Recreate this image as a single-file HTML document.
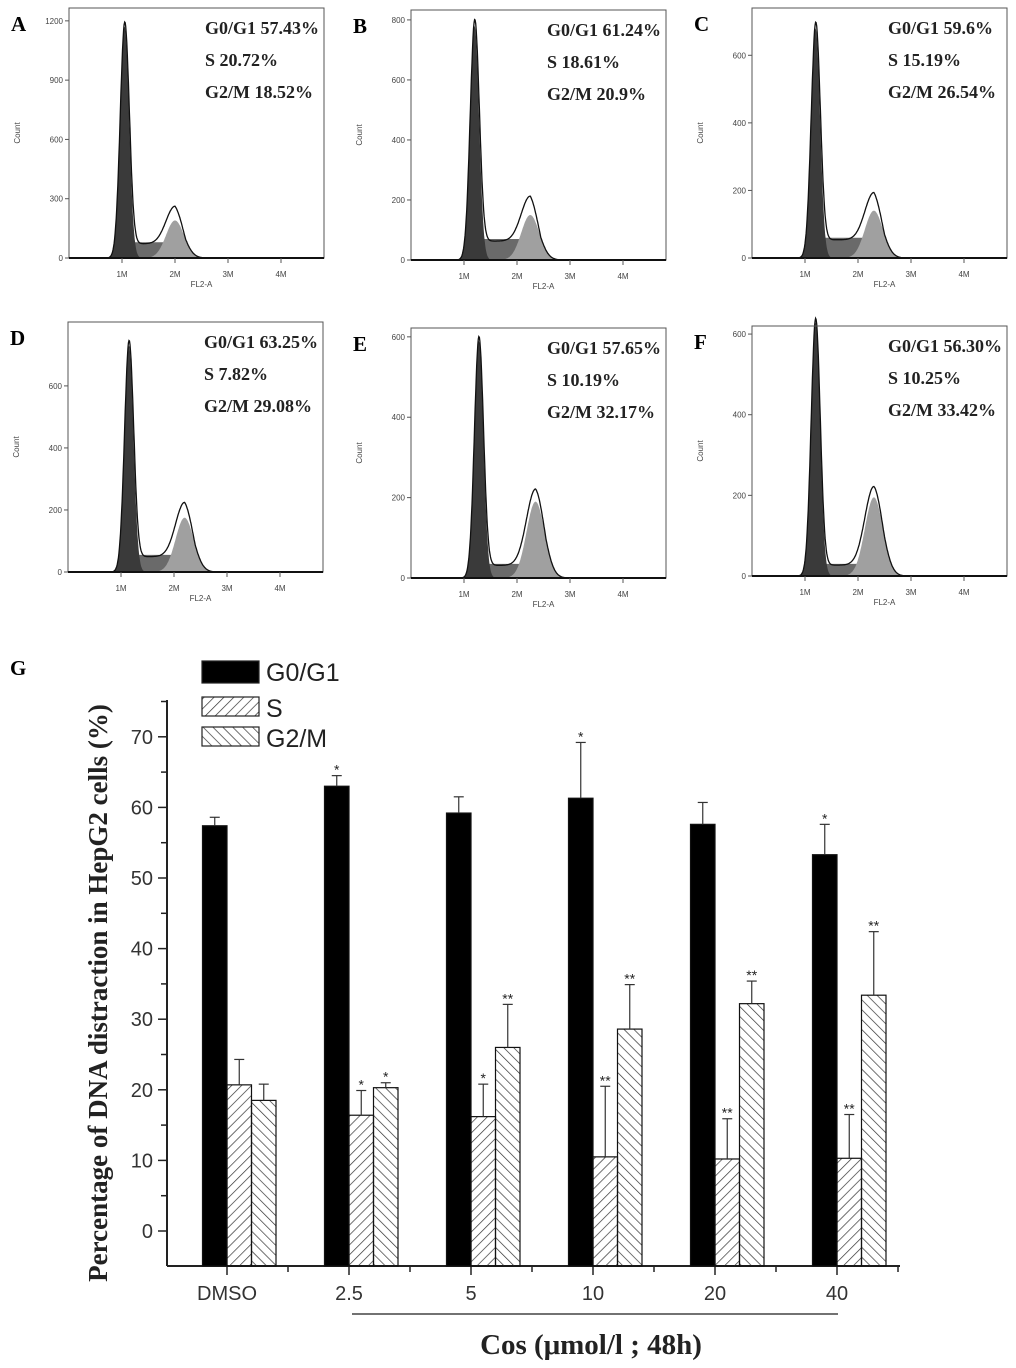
<!DOCTYPE html>
<html><head><meta charset="utf-8"><style>
body{margin:0;background:#fff;}
svg{display:block;}
</style></head><body>
<svg id="fig" width="1016" height="1368" viewBox="0 0 1016 1368" xmlns="http://www.w3.org/2000/svg">
<defs>
<pattern id="hatchS" patternUnits="userSpaceOnUse" width="7" height="7" patternTransform="rotate(45)">
<line x1="0" y1="0" x2="0" y2="7" stroke="#333" stroke-width="1.4"/></pattern>
<pattern id="hatchG2" patternUnits="userSpaceOnUse" width="7" height="7" patternTransform="rotate(-45)">
<line x1="0" y1="0" x2="0" y2="7" stroke="#333" stroke-width="1.4"/></pattern>
</defs>
<g id="hists"></g>
<g id="bars"></g>
</svg>
<script>
const NS='http://www.w3.org/2000/svg';
function mk(parent,tag,attrs,text){const e=document.createElementNS(NS,tag);for(const k in attrs)e.setAttribute(k,attrs[k]);if(text!==undefined)e.textContent=text;parent.appendChild(e);return e;}

// ---------- Histogram panels data ----------
const panelLetters=['A','B','C','D','E','F'];
const g1Pct=['57.43%','61.24%','59.6%','63.25%','57.65%','56.30%'];
const sPct=['20.72%','18.61%','15.19%','7.82%','10.19%','10.25%'];
const g2Pct=['18.52%','20.9%','26.54%','29.08%','32.17%','33.42%'];
const yMaxCounts=[1265,833,740,806,622,620];
const yTickSteps=[300,200,200,200,200,200];
const yTickMax=[1200,800,600,600,600,600];
const g1Peak=[1170,780,680,730,590,630];
const g1Pos=[1.05,1.2,1.2,1.15,1.28,1.2];
const sHeight=[80,70,60,55,35,30];
const g2Peak=[190,150,140,175,190,195];
const g2Pos=[2.0,2.25,2.3,2.2,2.35,2.3];
const frames=[[69,8],[411,10],[752,8],[68,322],[411,328],[752,326]];
const FW=255,FH=250;

const H=document.getElementById('hists');
for(let i=0;i<6;i++){
  const [fx,fy]=frames[i];const base=fy+FH;
  const g=mk(H,'g',{});
  
  
  const xs=v=>fx+v*53;const ys=c=>base-c/yMaxCounts[i]*FH;
  const gauss=(x,m,s)=>Math.exp(-0.5*((x-m)/s)**2);
  const sG1=0.085,sG2=0.17;
  const g1=x=>g1Peak[i]*gauss(x,g1Pos[i],sG1);
  const g2=x=>g2Peak[i]*gauss(x,g2Pos[i],sG2);
  const sC=x=>{const a=g1Pos[i]+0.1,b=g2Pos[i];if(x<a-0.15||x>b+0.2)return 0;let v=sHeight[i];if(x<a)v*=(x-(a-0.15))/0.15;if(x>b)v*=1-(x-b)/0.2;return v;};
  const area=(f,col,nm)=>{let d='M'+xs(0.6)+','+base;for(let x=0.6;x<=3.2;x+=0.01)d+=' L'+xs(x).toFixed(1)+','+ys(f(x)).toFixed(1);d+=' L'+xs(3.2)+','+base+' Z';
    const p=mk(g,'path',{d:d,fill:col});};
  area(sC,'#6a6a6a','s-phase-area');
  area(g2,'#a0a0a0','g2m-peak');
  area(g1,'#3a3a3a','g1-peak');
  let d='';for(let x=0.6;x<=3.2;x+=0.01){const v=g1(x)+g2(x)+sC(x)*0.9;d+=(d?' L':'M')+xs(x).toFixed(1)+','+ys(v).toFixed(1);}
  const ol=mk(g,'path',{d:d,fill:'none',stroke:'#111','stroke-width':1.3});
  
  const fr=mk(g,'rect',{x:fx,y:fy,width:FW,height:FH,fill:'none',stroke:'#555','stroke-width':1});
  
  mk(g,'line',{x1:fx,y1:base,x2:fx+FW,y2:base,stroke:'#111','stroke-width':2});
  for(let t=0;t<=yTickMax[i];t+=yTickSteps[i]){
    mk(g,'line',{x1:fx-4,x2:fx,y1:ys(t),y2:ys(t),stroke:'#555'});
    const tl=mk(g,'text',{x:fx-6,y:ys(t)+3,'font-size':8,'font-family':'Liberation Sans, sans-serif','text-anchor':'end',fill:'#444'},String(t));
    
  }
  for(let m=1;m<=4;m++){
    mk(g,'line',{x1:xs(m),x2:xs(m),y1:base,y2:base+5,stroke:'#555'});
    const tl=mk(g,'text',{x:xs(m),y:base+19,'font-size':8,'font-family':'Liberation Sans, sans-serif','text-anchor':'middle',fill:'#444'},m+'M');
    
  }
  const xt=mk(g,'text',{x:xs(2.5),y:base+29,'font-size':8,'font-family':'Liberation Sans, sans-serif','text-anchor':'middle',fill:'#444'},'FL2-A');
  
  const yt=mk(g,'text',{x:0,y:0,'font-size':8,'font-family':'Liberation Sans, sans-serif','text-anchor':'middle',fill:'#444',transform:`translate(${fx-49},${fy+FH/2}) rotate(-90)`},'Count');
  
  const lt=mk(g,'text',{x:fx-58,y:fy+23,'font-size':21,'font-weight':'bold','font-family':'Liberation Serif, serif'},panelLetters[i]);
  
  const lines=['G0/G1 '+g1Pct[i],'S  '+sPct[i],'G2/M '+g2Pct[i]];
  lines.forEach((s,k)=>{const t=mk(g,'text',{x:fx+136,y:fy+26+k*32,'font-size':18,'font-weight':'bold','font-family':'Liberation Serif, serif',fill:'#222','xml:space':'preserve'},s);
    });
}

// ---------- Bar chart data ----------
const categories=['DMSO','2.5','5','10','20','40'];
const g1Values=[57.4,63.0,59.2,61.3,57.6,53.3];
const g1Err=[1.2,1.5,2.3,7.9,3.1,4.3];
const sValues=[20.7,16.4,16.2,10.5,10.2,10.3];
const sErr=[3.6,3.5,4.6,10.0,5.7,6.2];
const g2Values=[18.5,20.3,26.0,28.6,32.2,33.4];
const g2Err=[2.3,0.7,6.1,6.3,3.2,9.0];
const g1Sig=['','*','','*','','*'];
const sSig=['','*','*','**','**','**'];
const g2Sig=['','*','**','**','**','**'];
const yTicks=[0,10,20,30,40,50,60,70];

const B=document.getElementById('bars');
const AX=167,Y0=1231,PX=7.06,AXB=1266,AXT=700,C0=227,DX=122,BW=24.5;
const yS=v=>Y0-v*PX;const xC=i=>C0+i*DX;
const ya=mk(B,'line',{x1:AX,x2:AX,y1:AXT,y2:AXB,stroke:'#222','stroke-width':2});

const xa=mk(B,'line',{x1:AX,x2:900,y1:AXB,y2:AXB,stroke:'#222','stroke-width':2});

for(let v=-5;v<=75;v+=5){if(yS(v)>AXB)continue;const major=v%10===0&&v>=0;mk(B,'line',{x1:AX-(major?9:6),x2:AX,y1:yS(v),y2:yS(v),stroke:'#222','stroke-width':1.5});}
yTicks.forEach(v=>{const t=mk(B,'text',{x:AX-14,y:yS(v)+7,'font-size':20,'font-family':'Liberation Sans, sans-serif','text-anchor':'end',fill:'#333'},String(v));
  });
for(let i=0;i<categories.length;i++){
  mk(B,'line',{x1:xC(i),x2:xC(i),y1:AXB,y2:AXB+9,stroke:'#222','stroke-width':1.5});
  mk(B,'line',{x1:xC(i)+DX/2,x2:xC(i)+DX/2,y1:AXB,y2:AXB+6,stroke:'#222','stroke-width':1.5});
  const t=mk(B,'text',{x:xC(i),y:AXB+34,'font-size':20,'font-family':'Liberation Sans, sans-serif','text-anchor':'middle',fill:'#333'},categories[i]);
  
}
const mkBar=(i,off,val,err,sig,fill,nm)=>{
  const x=xC(i)+off;const y=yS(val);
  const r=mk(B,'rect',{x:x,y:y,width:BW,height:AXB-y,fill:fill,stroke:'#111','stroke-width':1.2});
  
  const ey=yS(val+err);const cx=x+BW/2;
  mk(B,'line',{x1:cx,x2:cx,y1:y,y2:ey,stroke:'#333','stroke-width':1.2});
  mk(B,'line',{x1:cx-5,x2:cx+5,y1:ey,y2:ey,stroke:'#333','stroke-width':1.2});
  if(sig){const t=mk(B,'text',{x:cx,y:ey-1,'font-size':14,'font-family':'Liberation Sans, sans-serif','text-anchor':'middle',fill:'#222'},sig);
    }
};
for(let i=0;i<categories.length;i++){
  mkBar(i,-BW,g1Values[i],g1Err[i],g1Sig[i],'#000','bar-g0g1');
  mkBar(i,0,sValues[i],sErr[i],sSig[i],'url(#hatchS)','bar-s');
  mkBar(i,BW,g2Values[i],g2Err[i],g2Sig[i],'url(#hatchG2)','bar-g2m');
}
const leg=[['G0/G1','#000',661],['S','url(#hatchS)',697],['G2/M','url(#hatchG2)',727]];
leg.forEach(([n,f,y])=>{const r=mk(B,'rect',{x:202,y:y,width:57,height:n==='G0/G1'?22:19,fill:f,stroke:'#222','stroke-width':1.2});
  
  const t=mk(B,'text',{x:266,y:y+20,'font-size':25,'font-family':'Liberation Sans, sans-serif',fill:'#222'},n);
  });
const gl=mk(B,'text',{x:10,y:675,'font-size':21,'font-weight':'bold','font-family':'Liberation Serif, serif'},'G');

const yt=mk(B,'text',{x:0,y:0,'font-size':27,'font-weight':'bold','font-family':'Liberation Serif, serif','text-anchor':'middle',fill:'#222',transform:'translate(107,993) rotate(-90)'},'Percentage of DNA distraction in HepG2 cells (%)');

const ul=mk(B,'line',{x1:352,x2:838,y1:1314,y2:1314,stroke:'#444','stroke-width':1.5});

const xt=mk(B,'text',{x:591,y:1354,'font-size':29,'font-weight':'bold','font-family':'Liberation Serif, serif','text-anchor':'middle',fill:'#222'},'Cos (μmol/l ; 48h)');

</script>
</body></html>
